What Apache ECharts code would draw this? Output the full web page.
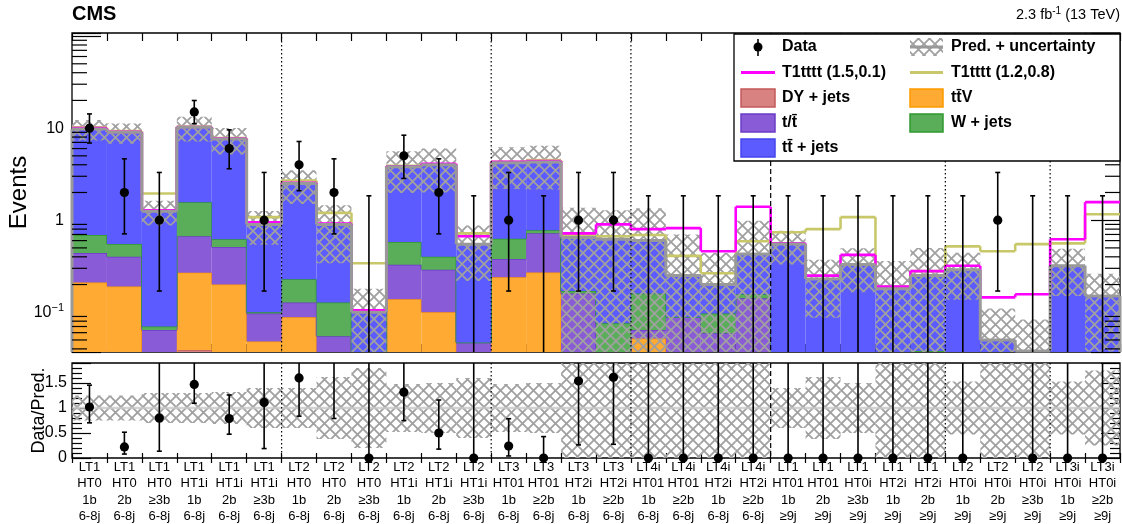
<!DOCTYPE html>
<html><head><meta charset="utf-8">
<script src="https://cdn.jsdelivr.net/npm/echarts@6/dist/echarts.min.js"></script>
<style>html,body{margin:0;padding:0;background:#fff}#c{width:1122px;height:524px}</style>
</head><body><div id="c"></div>
<script>
// ---------------- data ----------------
const categories = ['LT1\nHT0\n1b\n6-8j','LT1\nHT0\n2b\n6-8j','LT1\nHT0\n≥3b\n6-8j','LT1\nHT1i\n1b\n6-8j','LT1\nHT1i\n2b\n6-8j','LT1\nHT1i\n≥3b\n6-8j',
 'LT2\nHT0\n1b\n6-8j','LT2\nHT0\n2b\n6-8j','LT2\nHT0\n≥3b\n6-8j','LT2\nHT1i\n1b\n6-8j','LT2\nHT1i\n2b\n6-8j','LT2\nHT1i\n≥3b\n6-8j',
 'LT3\nHT01\n1b\n6-8j','LT3\nHT01\n≥2b\n6-8j','LT3\nHT2i\n1b\n6-8j','LT3\nHT2i\n≥2b\n6-8j',
 'LT4i\nHT01\n1b\n6-8j','LT4i\nHT01\n≥2b\n6-8j','LT4i\nHT2i\n1b\n6-8j','LT4i\nHT2i\n≥2b\n6-8j',
 'LT1\nHT01\n1b\n≥9j','LT1\nHT01\n2b\n≥9j','LT1\nHT0i\n≥3b\n≥9j','LT1\nHT2i\n1b\n≥9j','LT1\nHT2i\n2b\n≥9j',
 'LT2\nHT0i\n1b\n≥9j','LT2\nHT0i\n2b\n≥9j','LT2\nHT0i\n≥3b\n≥9j','LT3i\nHT0i\n1b\n≥9j','LT3i\nHT0i\n≥2b\n≥9j'];
const dyJets   = [0,0,0,0.039,0,0,0,0,0,0, 0,0,0,0,0,0,0,0,0,0, 0,0,0,0,0,0,0,0,0,0];
const ttV      = [0.21,0.19,0,0.23,0.20,0.048,0.088,0,0,0.138, 0.10,0,0.24,0.27,0,0,0.052,0,0,0, 0,0,0,0,0,0,0,0,0,0];
const singleT  = [0.23,0.21,0.064,0.40,0.31,0.049,0.04,0.055,0,0.19, 0.19,0.047,0.14,0.45,0.16,0.02,0.012,0.088,0.059,0.142, 0,0,0,0,0,0,0,0,0,0];
const wJets    = [0.25,0.15,0.006,0.90,0.11,0.003,0.10,0.073,0,0.25, 0.11,0,0.25,0.06,0.01,0.056,0.096,0,0.038,0.015, 0,0,0,0,0.038,0,0,0,0,0];
const ttJets   = [9.11,8.45,1.18,8.63,6.98,0.80,2.27,0.77,0.10,3.22, 3.60,0.50,3.57,3.52,0.48,0.544,0.44,0.162,0.103,0.273, 0.55,0.23,0.33,0.18,0.212,0.29,0.05,0.038,0.32,0.15];
const relUnc   = [0.25,0.25,0.3,0.3,0.32,0.4,0.4,0.62,0.8,0.48, 0.5,0.6,0.48,0.5,1.1,1.07,1.25,1.8,1.2,1.3, 0.4,0.62,0.5,1.0,1.0,0.53,1.2,1.2,0.53,0.75];
const sig15_01 = [10.0,9.1,1.28,10.3,7.7,0.95,2.55,0.92,0.105,3.85, 4.1,0.67,4.3,4.4,0.72,0.9,0.8,0.82,0.46,1.4, 0.56,0.25,0.42,0.19,0.28,0.32,0.145,0.157,0.62,1.57];
const sig12_08 = [10.2,9.3,1.95,10.4,7.8,1.08,2.7,1.2,0.34,3.9, 4.05,0.72,4.3,4.5,0.69,0.67,0.69,0.41,0.265,0.59, 0.74,0.8,1.08,0.19,0.28,0.52,0.46,0.55,0.56,1.16];
const dataCounts = [10,2,1,15,6,1,4,2,0,5, 2,0,1,0,1,1,0,0,0,0, 0,0,0,0,0,0,1,0,0,0];
const dataLo     = [6.89,0.71,0.17,11.17,3.62,0.17,2.09,0.71,0,2.84, 0.71,0,0.17,0,0.17,0.17,0,0,0,0, 0,0,0,0,0,0,0.17,0,0,0];
const dataHi     = [14.27,4.64,3.30,19.96,9.58,3.30,7.16,4.64,1.84,8.38, 4.64,1.84,3.30,1.84,3.30,3.30,1.84,1.84,1.84,1.84, 1.84,1.84,1.84,1.84,1.84,1.84,3.30,1.84,1.84,1.84];
const dividers   = [6,12,16,20,25,28];
const dividerDashed = [0,0,0,1,0,0];
const ratioTicks = [0,0.5,1,1.5];

// ---------------- helpers ----------------
const YMIN = 0.037, YMAX = 108, RMAX = 1.9;
const FONT = "'Liberation Sans', Arial, Helvetica, sans-serif";
const cl = v => Math.max(v, YMIN);
const N = categories.length;
const comps = [dyJets, ttV, singleT, wJets, ttJets];
const fills   = ['#d88282','#ffaa33','#8a5bd6','#5aae5a','#5b5bff'];
const strokes = ['#c45a5a','#ff9a00','#6a3cc6','#2e9a2e','#4545ee'];
const cum = [];
let run = new Array(N).fill(0);
comps.forEach(c => { const bot = run.slice(); run = run.map((v,i)=>v + c[i]); cum.push({bot, top: run.slice()}); });
const total = run.slice();

const pc = document.createElement('canvas'); pc.width = 11; pc.height = 11;
const g = pc.getContext('2d'); g.strokeStyle = '#a0a0a0'; g.lineWidth = 1.8;
g.beginPath(); g.moveTo(-1,-1); g.lineTo(12,12); g.moveTo(12,-1); g.lineTo(-1,12); g.stroke();
const hatch = {image: pc, repeat: 'repeat'};

function edges(api, i, v){ const p = api.coord([i, v]); const w = api.size([1,0])[0]; return {x0: p[0]-w/2, x1: p[0]+w/2, xc: p[0], y: p[1]}; }

function stackSeries(k){
  return {
    type:'custom', xAxisIndex:0, yAxisIndex:0, encode:{x:0,y:1},
    data: categories.map((c,i)=>[i, 1, cum[k].bot[i], cum[k].top[i], i<N-1 ? cum[k].top[i+1] : -1]),
    renderItem(params, api){
      const i = api.value(0), b = api.value(2), t = api.value(3), tn = api.value(4);
      const e0 = edges(api, i, cl(b)), e1 = edges(api, i, cl(t));
      const ch = [];
      if (t > b && t > YMIN) ch.push({type:'rect', shape:{x:e0.x0, y:e1.y, width:e0.x1-e0.x0, height:e0.y-e1.y}, style:{fill:fills[k]}});
      if (t > YMIN) ch.push({type:'line', shape:{x1:e0.x0, y1:e1.y, x2:e0.x1, y2:e1.y}, style:{stroke:strokes[k], lineWidth:1.5}});
      if (tn >= 0 && (t > YMIN || tn > YMIN)) { const en = edges(api, i, cl(tn)); ch.push({type:'line', shape:{x1:e0.x1, y1:e1.y, x2:e0.x1, y2:en.y}, style:{stroke:strokes[k], lineWidth:1.5}}); }
      return {type:'group', children: ch};
    }
  };
}
function stepSeries(vals, color, width, closeEnds){
  return {
    type:'custom', xAxisIndex:0, yAxisIndex:0, encode:{x:0,y:1},
    data: vals.map((v,i)=>[i, 1, v, i<N-1 ? vals[i+1] : -1]),
    renderItem(params, api){
      const i = api.value(0), v = api.value(2), vn = api.value(3);
      const e = edges(api, i, cl(v));
      const ch = [{type:'line', shape:{x1:e.x0, y1:e.y, x2:e.x1, y2:e.y}, style:{stroke:color, lineWidth:width}}];
      if (vn >= 0) { const en = edges(api, i, cl(vn)); ch.push({type:'line', shape:{x1:e.x1, y1:e.y, x2:e.x1, y2:en.y}, style:{stroke:color, lineWidth:width}}); }
      if (closeEnds) {
        const eb = edges(api, i, YMIN);
        if (i === 0) ch.push({type:'line', shape:{x1:e.x0, y1:e.y, x2:e.x0, y2:eb.y}, style:{stroke:color, lineWidth:width}});
        if (i === N-1) ch.push({type:'line', shape:{x1:e.x1, y1:e.y, x2:e.x1, y2:eb.y}, style:{stroke:color, lineWidth:width}});
      }
      return {type:'group', children: ch};
    }
  };
}
function dividerSeries(xi, yi, lo, hi){
  return {
    type:'custom', xAxisIndex:xi, yAxisIndex:yi, encode:{x:0,y:1}, z:3,
    data: dividers.map((b,j)=>[b, 1, dividerDashed[j]]),
    renderItem(params, api){
      const b = api.value(0), d = api.value(2);
      const eT = edges(api, b, hi), eB = edges(api, b, lo);
      return {type:'line', shape:{x1:eT.x0, y1:eT.y, x2:eT.x0, y2:eB.y}, style:{stroke:'#000', lineWidth:1.2, lineDash: d ? [5,3] : [1.5,2.5]}};
    }
  };
}

const series = [];
for (let k=0;k<comps.length;k++) series.push(stackSeries(k));
series.push({
  type:'custom', xAxisIndex:0, yAxisIndex:0, encode:{x:0,y:1},
  data: total.map((t,i)=>[i, 1, t*(1-relUnc[i]), t*(1+relUnc[i])]),
  renderItem(params, api){
    const i = api.value(0), lo = api.value(2), hi = api.value(3);
    const a = edges(api, i, cl(lo)), b = edges(api, i, Math.min(cl(hi), YMAX));
    return {type:'rect', shape:{x:a.x0, y:b.y, width:a.x1-a.x0, height:a.y-b.y}, style:{fill:hatch}};
  }
});
series.push(stepSeries(sig12_08, '#c8c86a', 2.6, false));
series.push(stepSeries(sig15_01, '#ff00ff', 2.6, false));
series.push(stepSeries(total, '#999999', 3, true));
series.push(dividerSeries(0, 0, YMIN, YMAX));
const minorVals = [];
for (let d=-2; d<=2; d++) for (let m=2; m<=9; m++){ const v = m*Math.pow(10,d); if (v>YMIN && v<YMAX) minorVals.push(v); }
series.push({
  type:'custom', xAxisIndex:0, yAxisIndex:0, encode:{x:0,y:1}, z:4,
  data: minorVals.map(v=>[0, v]),
  renderItem(params, api){
    const v = api.value(1);
    const l = edges(api, 0, v), r = edges(api, N-1, v);
    return {type:'group', children:[
      {type:'line', shape:{x1:l.x0, y1:l.y, x2:l.x0+15, y2:l.y}, style:{stroke:'#000', lineWidth:1.2}},
      {type:'line', shape:{x1:r.x1-15, y1:r.y, x2:r.x1, y2:r.y}, style:{stroke:'#000', lineWidth:1.2}}
    ]};
  }
});
series.push({
  type:'custom', xAxisIndex:0, yAxisIndex:0, encode:{x:0,y:1}, z:5,
  data: dataCounts.map((n,i)=>[i, 1, n, dataLo[i], dataHi[i]]),
  renderItem(params, api){
    const i = api.value(0), n = api.value(2), lo = api.value(3), hi = api.value(4);
    const eL = edges(api, i, cl(lo)), eH = edges(api, i, hi);
    const x = eL.xc;
    const ch = [
      {type:'line', shape:{x1:x, y1:eL.y, x2:x, y2:eH.y}, style:{stroke:'#000', lineWidth:1.6}},
      {type:'line', shape:{x1:x-2.5, y1:eH.y, x2:x+2.5, y2:eH.y}, style:{stroke:'#000', lineWidth:1.6}}
    ];
    if (n > 0) {
      ch.push({type:'line', shape:{x1:x-2.5, y1:eL.y, x2:x+2.5, y2:eL.y}, style:{stroke:'#000', lineWidth:1.6}});
      const p = edges(api, i, n);
      ch.push({type:'circle', shape:{cx:x, cy:p.y, r:4.6}, style:{fill:'#000'}});
    }
    return {type:'group', children: ch};
  }
});
series.push({
  type:'custom', xAxisIndex:2, yAxisIndex:2, encode:{x:0,y:1},
  data: relUnc.map((u,i)=>[i, 1, Math.max(0,1-u), Math.min(RMAX,1+u)]),
  renderItem(params, api){
    const i = api.value(0), lo = api.value(2), hi = api.value(3);
    const a = api.coord([i, lo]), b = api.coord([i, hi]); const w = api.size([1,0])[0];
    return {type:'rect', shape:{x:a[0]-w/2, y:b[1], width:w, height:a[1]-b[1]}, style:{fill:hatch}};
  }
});
series.push({
  type:'custom', xAxisIndex:2, yAxisIndex:2, encode:{x:0,y:1}, z:3,
  data: [[0, 1]],
  renderItem(params, api){
    const a = api.coord([0, 1]), b = api.coord([N-1, 1]); const w = api.size([1,0])[0];
    return {type:'line', shape:{x1:a[0]-w/2, y1:a[1], x2:b[0]+w/2, y2:b[1]}, style:{stroke:'rgba(200,200,200,0.8)', lineWidth:2.5}};
  }
});
series.push(dividerSeries(2, 2, 0, RMAX));
series.push({
  type:'custom', xAxisIndex:2, yAxisIndex:2, encode:{x:0,y:1}, z:5,
  data: dataCounts.map((n,i)=>[i, 1, n/total[i], dataLo[i]/total[i], dataHi[i]/total[i]]),
  renderItem(params, api){
    const i = api.value(0), r = api.value(2), lo = api.value(3), hi = api.value(4);
    if (lo > RMAX) return null;
    const x = api.coord([i, 0])[0];
    const yl = api.coord([i, Math.max(lo,0)])[1], yh = api.coord([i, Math.min(hi,RMAX)])[1];
    const ch = [{type:'line', shape:{x1:x, y1:yl, x2:x, y2:yh}, style:{stroke:'#000', lineWidth:1.6}}];
    if (hi <= RMAX) ch.push({type:'line', shape:{x1:x-2.5, y1:yh, x2:x+2.5, y2:yh}, style:{stroke:'#000', lineWidth:1.6}});
    if (r > 0) ch.push({type:'line', shape:{x1:x-2.5, y1:yl, x2:x+2.5, y2:yl}, style:{stroke:'#000', lineWidth:1.6}});
    if (r <= RMAX) { const yp = api.coord([i, r])[1]; ch.push({type:'circle', shape:{cx:x, cy:yp, r:4.6}, style:{fill:'#000'}}); }
    return {type:'group', children: ch};
  }
});

const xBase = (grid, pos, len, labels) => ({
  type:'category', gridIndex:grid, position:pos, data:categories, boundaryGap:true,
  axisLine:{show:false}, splitLine:{show:false},
  axisTick:{show:true, inside:true, length:len, interval:0, alignWithLabel:false, lineStyle:{color:'#000', width:1.2}},
  axisLabel: labels ? {show:true, interval:0, color:'#000', fontFamily:FONT, fontSize:13, lineHeight:16.5, margin:1, hideOverlap:false} : {show:false}
});
const supLabel = v => {
  const e = Math.log10(v); if (Math.abs(e-Math.round(e))>1e-6) return '';
  const r = Math.round(e); if (r===0) return '1'; if (r===1) return '10'; if (r===-1) return '10{s|−1}'; return '';
};
const option = {
  animation:false,
  backgroundColor:'#fff',
  grid:[
    {left:72, top:33, width:1048, height:319, show:true, borderColor:'#000', borderWidth:1.3, backgroundColor:'transparent', containLabel:false, outerBoundsMode:'none'},
    {left:72, top:363, width:1048, height:95, show:true, borderColor:'#000', borderWidth:1.3, backgroundColor:'transparent', containLabel:false, outerBoundsMode:'none'}
  ],
  xAxis:[ xBase(0,'bottom',8,false), xBase(0,'top',8,false), xBase(1,'bottom',5,true), xBase(1,'top',5,false) ],
  yAxis:[
    {type:'log', logBase:10, gridIndex:0, position:'left', min:YMIN, max:YMAX,
     name:'Events', nameLocation:'middle', nameGap:41, nameMoveOverlap:false, nameTextStyle:{fontFamily:FONT, fontSize:24, color:'#000'},
     axisLine:{show:false}, splitLine:{show:false},
     axisTick:{show:true, inside:true, length:29, lineStyle:{color:'#000', width:1.2}},
     axisLabel:{show:true, color:'#000', fontFamily:FONT, fontSize:16, margin:8, formatter:supLabel,
       rich:{s:{fontSize:11, fontFamily:FONT, color:'#000', padding:[0,0,9,0]}}}},
    {type:'log', logBase:10, gridIndex:0, position:'right', min:YMIN, max:YMAX,
     axisLine:{show:false}, splitLine:{show:false},
     axisTick:{show:true, inside:true, length:29, lineStyle:{color:'#000', width:1.2}}, axisLabel:{show:false}},
    {type:'value', gridIndex:1, position:'left', min:0, max:RMAX, interval:0.5,
     name:'Data/Pred.', nameLocation:'middle', nameGap:24, nameMoveOverlap:false, nameTextStyle:{fontFamily:FONT, fontSize:18, color:'#000'},
     axisLine:{show:false}, splitLine:{show:false},
     axisTick:{show:true, inside:true, length:19, lineStyle:{color:'#000', width:1.2}},
     minorTick:{show:true, splitNumber:5, length:10, lineStyle:{color:'#000', width:1.2}},
     axisLabel:{show:true, color:'#000', fontFamily:FONT, fontSize:16, margin:5, formatter: v => ratioTicks.indexOf(v) >= 0 ? String(v) : ''}},
    {type:'value', gridIndex:1, position:'right', min:0, max:RMAX, interval:0.5,
     axisLine:{show:false}, splitLine:{show:false},
     axisTick:{show:true, inside:true, length:19, lineStyle:{color:'#000', width:1.2}},
     minorTick:{show:true, splitNumber:5, length:10, lineStyle:{color:'#000', width:1.2}}, axisLabel:{show:false}}
  ],
  series,
  graphic: (function(){
    const els = [];
    const T = (x, y, text, font, align) => ({type:'text', x, y, z:101, style:{text, font, fill:'#000', align: align||'left', verticalAlign:'middle'}});
    els.push(T(72, 14, 'CMS', 'bold 20px '+FONT));
    els.push({type:'text', x:1120, y:15, z:101, style:{text:'2.3 fb{s|-1} (13 TeV)', font:'14.5px '+FONT, fill:'#000', align:'right', verticalAlign:'middle',
      rich:{s:{fontSize:10, fontFamily:FONT, fill:'#000', padding:[0,0,8,0]}}}});
    els.push({type:'rect', z:100, shape:{x:734, y:34, width:386, height:127}, style:{fill:'#fff', stroke:'#000', lineWidth:1.3}});
    const LF = 'bold 16px '+FONT;
    const rows = [47, 72.5, 98, 123, 148];
    const lx0 = 741, lx1 = 775, rx0 = 910, rx1 = 943;
    els.push({type:'line', z:101, shape:{x1:758, y1:39, x2:758, y2:56}, style:{stroke:'#000', lineWidth:1.6}});
    els.push({type:'circle', z:101, shape:{cx:758, cy:47, r:4.5}, style:{fill:'#000'}});
    els.push(T(782, rows[0], 'Data', LF));
    els.push({type:'rect', z:101, shape:{x:rx0, y:38, width:rx1-rx0, height:18}, style:{fill:hatch}});
    els.push({type:'line', z:101, shape:{x1:rx0, y1:47, x2:rx1, y2:47}, style:{stroke:'#999', lineWidth:3}});
    els.push(T(951, rows[0], 'Pred. + uncertainty', LF));
    els.push({type:'line', z:101, shape:{x1:lx0, y1:rows[1], x2:lx1, y2:rows[1]}, style:{stroke:'#ff00ff', lineWidth:3}});
    els.push(T(782, rows[1], 'T1tttt (1.5,0.1)', LF));
    els.push({type:'line', z:101, shape:{x1:rx0, y1:rows[1], x2:rx1, y2:rows[1]}, style:{stroke:'#c8c86a', lineWidth:3}});
    els.push(T(951, rows[1], 'T1tttt (1.2,0.8)', LF));
    const box = (x0, x1, y, k) => ({type:'rect', z:101, shape:{x:x0, y:y-9, width:x1-x0, height:18}, style:{fill:fills[k], stroke:strokes[k], lineWidth:1.5}});
    els.push(box(lx0,lx1,rows[2],0)); els.push(T(782, rows[2], 'DY + jets', LF));
    els.push(box(rx0,rx1,rows[2],1)); els.push(T(951, rows[2], 'tt\u0304V', LF));
    els.push(box(lx0,lx1,rows[3],2)); els.push(T(782, rows[3], 't/t\u0304', LF));
    els.push(box(rx0,rx1,rows[3],3)); els.push(T(951, rows[3], 'W + jets', LF));
    els.push(box(lx0,lx1,rows[4],4)); els.push(T(782, rows[4], 'tt\u0304 + jets', LF));
    return els;
  })()
};
const chart = echarts.init(document.getElementById('c'));
chart.setOption(option);
</script>
</body></html>
